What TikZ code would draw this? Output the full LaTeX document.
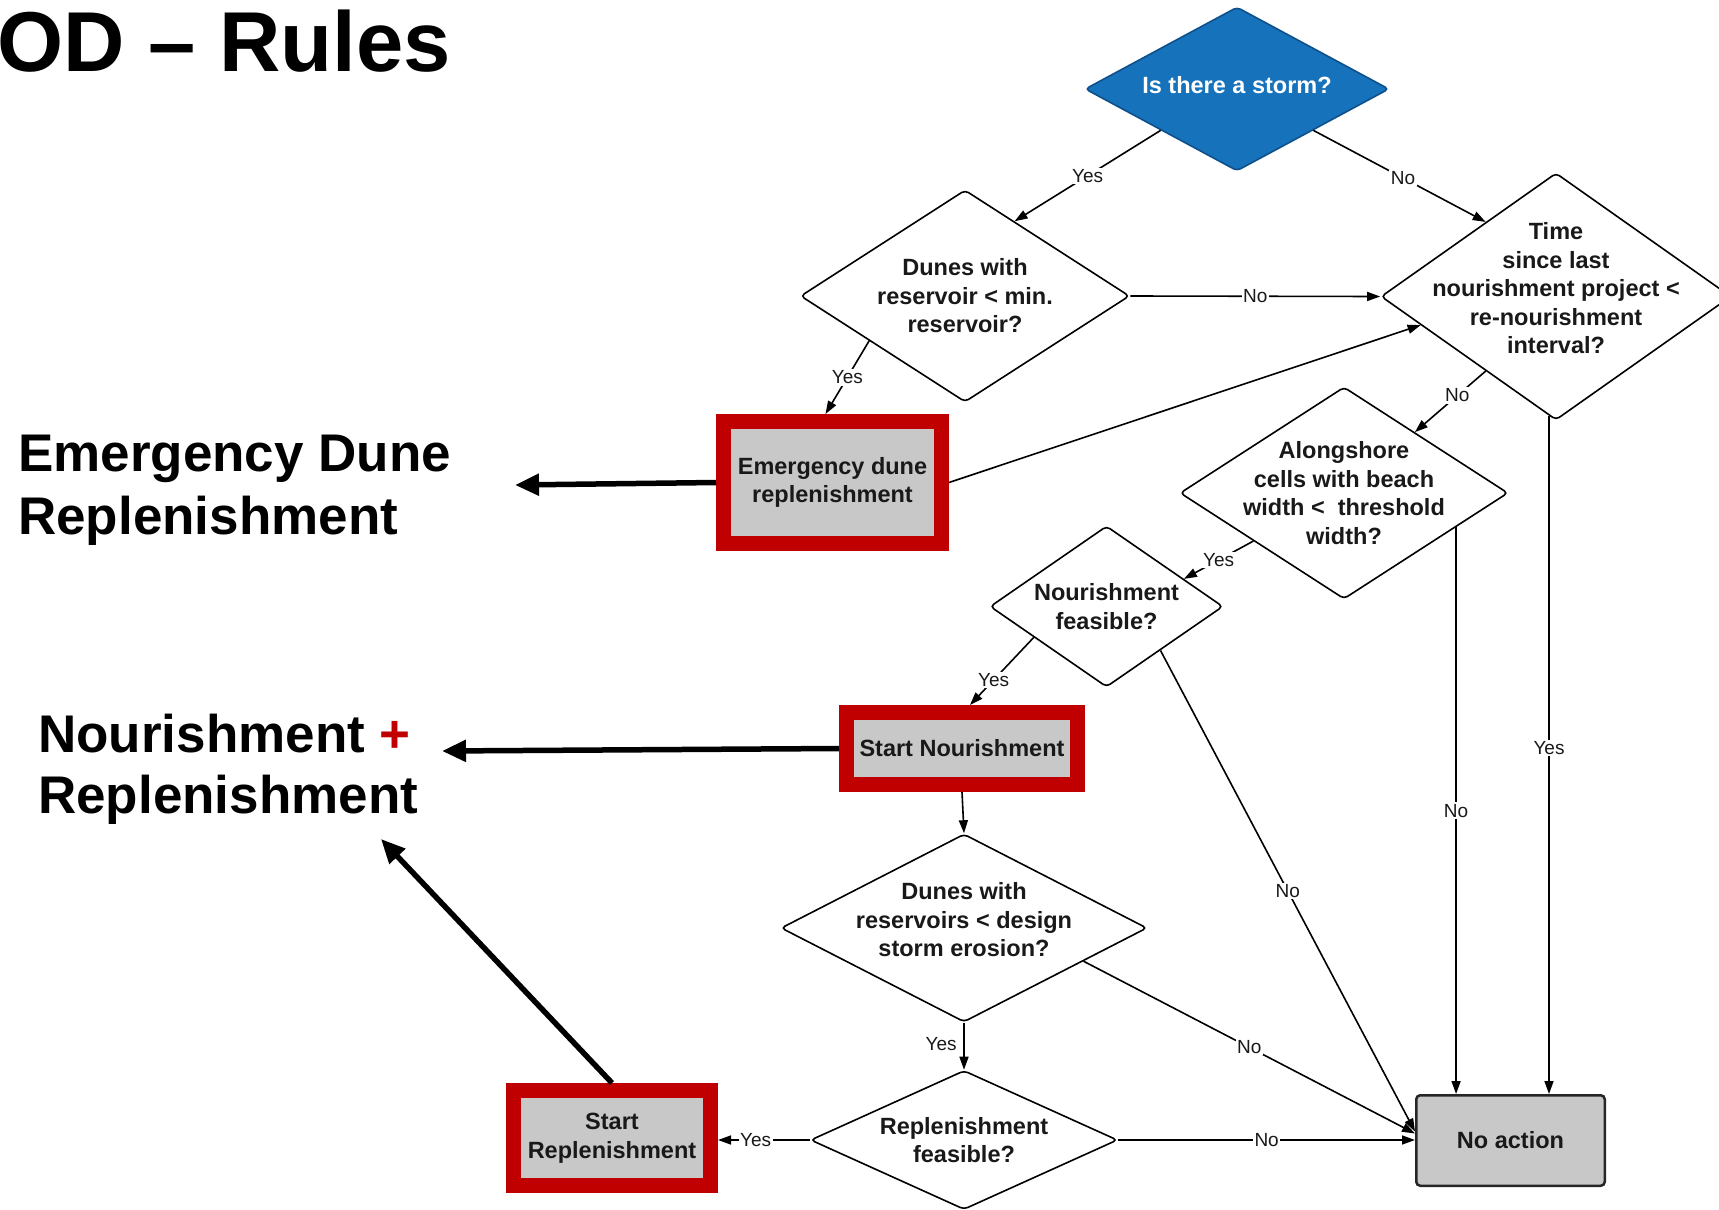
\documentclass[tikz,border=0pt]{standalone}
\usepackage{fontspec}
\setmainfont{Liberation Sans}
\usetikzlibrary{shapes.geometric,arrows.meta,calc}
\definecolor{framered}{RGB}{192,0,0}
\definecolor{boxgray}{RGB}{200,200,200}
\definecolor{stormblue}{RGB}{22,114,186}
\definecolor{stormedge}{RGB}{14,80,140}
\definecolor{ink}{RGB}{25,25,25}

\begin{document}
\begin{tikzpicture}[x=1pt,y=-1pt,
  txt/.style={font=\bfseries\fontsize{23.5}{28.5}\selectfont, align=center, text=ink},
  dia/.style={shape=diamond, draw=black, line width=1.6pt, fill=white, inner sep=0pt, rounded corners=4pt},
  redbox/.style={draw=framered, line width=15pt, fill=boxgray, inner sep=0pt, txt},
  flow/.style={line width=1.6pt, -{Triangle[length=13pt,width=9pt]}},
  lbl/.style={fill=white, inner sep=1.5pt, font=\fontsize{19}{22}\selectfont, text=ink},
  bigarrow/.style={line width=5.5pt, -{Triangle[length=24pt,width=21pt]}},
  side/.style={font=\bfseries\fontsize{53}{63}\selectfont, anchor=base west, inner sep=0pt},
  headline/.style={font=\bfseries\fontsize{85}{85}\selectfont, anchor=base west, inner sep=0pt}
]
\useasboundingbox (0,0) rectangle (1719,1210);

% headings on the left
\node[headline] (title) at (-3,71) {OD – Rules};
\node[side] (edr1) at (18,471) {Emergency Dune};
\node[side] (edr2) at (18,534) {Replenishment};
\node[side] (nr1) at (38,752) {Nourishment \textcolor{framered}{+}};
\node[side] (nr2) at (38,813) {Replenishment};

% decisions
\node[dia, fill=stormblue, draw=stormedge, minimum width=304, minimum height=164,
  label={[txt, text=white, yshift=4pt]center:Is there a storm?}] (storm) at (1237,89) {};
\node[dia, minimum width=329, minimum height=212,
  label={[txt]center:Dunes with\\reservoir < min.\\reservoir?}] (d1) at (965,296) {};
\node[dia, minimum width=350, minimum height=247,
  label={[txt, yshift=8pt]center:Time\\since last\\nourishment project <\\re-nourishment\\interval?}] (time) at (1556,296.5) {};
\node[dia, minimum width=328, minimum height=212,
  label={[txt]center:Alongshore\\cells with beach\\width <\ \ threshold\\width?}] (al) at (1344,493) {};
\node[dia, minimum width=233, minimum height=161,
  label={[txt]center:Nourishment\\feasible?}] (nf) at (1106.5,606.5) {};
\node[dia, minimum width=366, minimum height=188,
  label={[txt, yshift=8pt]center:Dunes with\\reservoirs < design\\storm erosion?}] (d2) at (964,928) {};
\node[dia, minimum width=307, minimum height=139,
  label={[txt]center:Replenishment\\feasible?}] (rf) at (964,1140) {};

% actions
\node[redbox, minimum width=218, minimum height=122] (em) at (832.5,482.5) {Emergency dune\\replenishment};
\node[redbox, minimum width=231, minimum height=72] (sn) at (962,748.5) {Start Nourishment};
\node[redbox, minimum width=197, minimum height=95] (sr) at (612,1138) {Start\\Replenishment};
\node[txt, draw=black!85, line width=2.5pt, fill=boxgray, rounded corners=4pt,
  minimum width=188.5, minimum height=90.5] (na) at (1510.5,1140.5) {No action};

% flow connectors
\draw[flow] (storm.south west) -- node[lbl]{Yes} ($(d1.north)!0.3!(d1.east)$);
\draw[flow] (storm.south east) -- node[lbl,pos=0.52]{No} ($(time.north)!0.4!(time.west)$);
\draw[flow] (d1.east) -- node[lbl]{No} (time.west);
\draw[flow] ($(d1.west)!0.42!(d1.south)$) -- node[lbl]{Yes} ($(em.north)+(-7,0)$);
\draw[flow] (em.east) -- ($(time.west)!0.23!(time.south)$);
\draw[flow] ($(time.west)!0.6!(time.south)$) -- node[lbl,pos=0.4]{No} ($(al.north)!0.43!(al.east)$);
\coordinate (timeyes) at ($(time.south)+(-7,-5)$);
\draw[flow] (timeyes) -- node[lbl,pos=0.49]{Yes} (timeyes |- na.north);
\draw[flow] ($(al.west)!0.45!(al.south)$) -- node[lbl]{Yes} ($(nf.north)!0.66!(nf.east)$);
\coordinate (alno) at ($(al.east)!0.32!(al.south)$);
\draw[flow] (alno) -- node[lbl]{No} (alno |- na.north);
\draw[flow] ($(nf.west)!0.38!(nf.south)$) -- node[lbl,pos=0.63]{Yes} ($(sn.north)+(8,0)$);
\draw[flow] ($(nf.east)!0.54!(nf.south)$) -- node[lbl]{No} ($(na.west)+(0,-9)$);
\draw[flow] (sn.south) -- (d2.north);
\draw[flow] (d2.south) -- node[lbl, fill=none, left, pos=0.45, xshift=-5pt]{Yes} (rf.north);
\draw[flow] ($(d2.east)!0.35!(d2.south)$) -- node[lbl]{No} ($(na.west)+(0,-7)$);
\draw[flow] (rf.east) -- node[lbl]{No} (rf.east -| na.west);
\draw[flow] (rf.west) -- node[lbl,pos=0.59]{Yes} (rf.west -| sr.east);

% pointers to the headings
\coordinate (edrtip) at (515,485);
\coordinate (nrtip) at (442,751);
\coordinate (nrtip2) at (381,839);
\draw[bigarrow] (em.west) -- (edrtip);
\draw[bigarrow] (sn.west) -- (nrtip);
\draw[bigarrow] (sr.north) -- (nrtip2);
\end{tikzpicture}
\end{document}
